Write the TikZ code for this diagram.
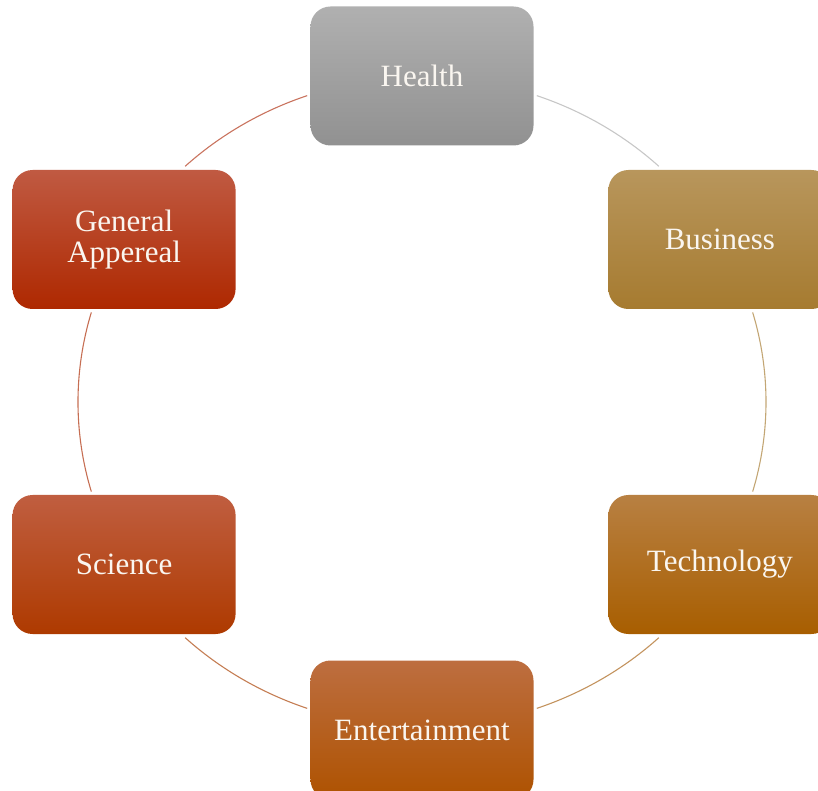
\documentclass[tikz,border=0pt]{standalone}
\usepackage{fontspec}
\setmainfont{Liberation Serif}
\usetikzlibrary{positioning,calc}

\definecolor{hltop}{HTML}{B0B0B0}
\definecolor{hlbot}{HTML}{919191}
\definecolor{bstop}{HTML}{B8965C}
\definecolor{bsbot}{HTML}{A67B30}
\definecolor{tctop}{HTML}{B88042}
\definecolor{tcbot}{HTML}{A85E00}
\definecolor{entop}{HTML}{BD6E40}
\definecolor{enbot}{HTML}{AE5200}
\definecolor{sctop}{HTML}{C05E40}
\definecolor{scbot}{HTML}{AE3A00}
\definecolor{gatop}{HTML}{C05A42}
\definecolor{gabot}{HTML}{AE2800}
\definecolor{boxtext}{HTML}{FAF6F0}

\begin{document}
\begin{tikzpicture}[x=1pt,y=1pt,
  box/.style={rectangle,rounded corners=20pt,minimum width=223pt,minimum height=139pt,
    text=boxtext,font=\fontsize{31}{31}\selectfont,align=center},
  ring/.style={line width=1.1pt}]
  \useasboundingbox (-422,402) rectangle (396,-389);
  \coordinate (c) at (0,0);

  % the ring, one arc between each pair of boxes
  \draw[ring,color=black!22]        (70.5:344 and 325)   arc[start angle=70.5,end angle=46.5,x radius=344pt,y radius=325pt];
  \draw[ring,color=bstop!85!white]  (16:344 and 325)     arc[start angle=16,end angle=-16,x radius=344pt,y radius=325pt];
  \draw[ring,color=tctop!85!white]  (-46.5:344 and 325)  arc[start angle=-46.5,end angle=-70.5,x radius=344pt,y radius=325pt];
  \draw[ring,color=entop!90!white]  (-109.5:344 and 325) arc[start angle=-109.5,end angle=-133.5,x radius=344pt,y radius=325pt];
  \draw[ring,color=sctop!90!white]  (-164:344 and 325)   arc[start angle=-164,end angle=-196,x radius=344pt,y radius=325pt];
  \draw[ring,color=gatop!85!white]  (133.5:344 and 325)  arc[start angle=133.5,end angle=109.5,x radius=344pt,y radius=325pt];

  \node[box,top color=hltop,bottom color=hlbot] (0) at (90:344 and 326)  {Health};
  \node[box,top color=bstop,bottom color=bsbot] (1) at (30:344 and 325)  {Business};
  \node[box,top color=tctop,bottom color=tcbot] (2) at (-30:344 and 325) {Technology};
  \node[box,top color=entop,bottom color=enbot] (3) at (-90:344 and 328) {Entertainment};
  \node[box,top color=sctop,bottom color=scbot] (4) at (210:344 and 325) {Science};
  \node[box,top color=gatop,bottom color=gabot] (5) at (150:344 and 325) {General\\Appereal};
\end{tikzpicture}
\end{document}
